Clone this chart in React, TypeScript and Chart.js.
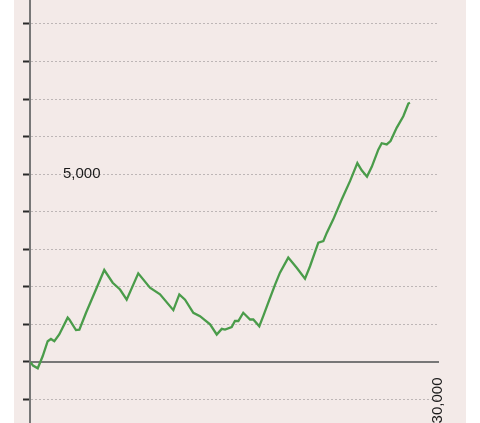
import { useEffect, useRef } from 'react';
import { Chart, registerables } from 'chart.js';

Chart.register(...registerables);

// Cumulative series
const xValues = [40, 220, 570, 930, 1300, 1540, 1790, 2150, 2770, 2890, 3380, 3630, 4120, 4850, 5460, 6080, 6620, 7110, 7960, 8820, 9560, 10540, 10980, 11400, 12010, 12500, 13240, 13730, 14100, 14340, 14830, 15070, 15320, 15680, 16180, 16420, 16860, 17150, 17520, 18020, 18380, 18990, 19610, 20220, 20590, 21200, 21570, 21820, 22300, 22920, 23530, 24070, 24390, 24780, 25130, 25610, 25860, 26230, 26510, 26960, 27450, 27820, 27940];
const yValues = [-15, -110, -180, 140, 540, 600, 540, 720, 1170, 1120, 840, 850, 1300, 1920, 2440, 2100, 1920, 1650, 2350, 1970, 1790, 1370, 1790, 1650, 1300, 1210, 990, 720, 870, 850, 920, 1080, 1080, 1300, 1120, 1120, 940, 1210, 1570, 2050, 2370, 2770, 2500, 2210, 2540, 3170, 3210, 3430, 3790, 4320, 4810, 5290, 5100, 4930, 5190, 5650, 5820, 5790, 5880, 6230, 6540, 6880, 6900];

const yTickValues = [-1000, 0, 1000, 2000, 3000, 4000, 5000, 6000, 7000, 8000, 9000];
const yLabelledTicks = [5000];
const xTickValues = [30000];

const FONT = 'Liberation Sans, Arial, Helvetica, sans-serif';

export default function App() {
  const ref = useRef<HTMLCanvasElement>(null);

  useEffect(() => {
    if (!ref.current) return;
    const bgPlugin = {
      id: 'bgPanel',
      beforeDraw(chart: any) {
        const { ctx, chartArea } = chart;
        ctx.save();
        ctx.fillStyle = '#f3eae8';
        ctx.fillRect(chartArea.left - 16, 0, chartArea.right - chartArea.left + 44, chart.height);
        ctx.restore();
      },
    };

    const chart = new Chart(ref.current, {
      type: 'line',
      data: {
        datasets: [
          {
            data: xValues.map((x, i) => ({ x, y: yValues[i] })),
            borderColor: '#4a9c4a',
            borderWidth: 2.3,
            pointRadius: 0,
            tension: 0,
            fill: false,
          },
        ],
      },
      options: {
        responsive: false,
        animation: false,
        layout: { padding: { left: 0, top: 0, right: 42, bottom: 0 } },
        plugins: { legend: { display: false }, tooltip: { enabled: false } },
        scales: {
          x: {
            type: 'linear',
            axis: 'x',
            position: { y: 0 },
            min: 0,
            max: 30000,
            afterBuildTicks: (s: any) => {
              s.ticks = xTickValues.map((v) => ({ value: v }));
            },
            afterFit: (s: any) => {
              s.paddingLeft = 0;
              s.paddingRight = 0;
              s.paddingTop = 0;
              s.paddingBottom = 0;
            },
            grid: { display: false, drawTicks: false, tickLength: 0 },
            border: { display: true, color: '#777777', width: 2 },
            ticks: {
              minRotation: 90,
              maxRotation: 90,
              padding: 16,
              color: '#1a1a1a',
              font: { family: FONT, size: 15 },
              callback: (v: any) => Number(v).toLocaleString('en-US'),
            },
          },
          y: {
            type: 'linear',
            position: 'left',
            min: -1640,
            max: 9640,
            afterBuildTicks: (s: any) => {
              s.ticks = yTickValues.map((v) => ({ value: v }));
            },
            afterFit: (s: any) => {
              s.width = 30;
              s.paddingTop = 0;
              s.paddingBottom = 0;
            },
            grid: {
              color: '#bdb6b6',
              lineWidth: 1,
              tickLength: 7,
              tickColor: '#2a2a2a',
              tickWidth: 2,
            },
            border: { color: '#777777', width: 2, dash: [2, 2] },
            ticks: {
              mirror: true,
              padding: 33,
              autoSkip: false,
              color: '#1a1a1a',
              font: { family: FONT, size: 15 },
              callback: (v: any) =>
                yLabelledTicks.includes(Number(v)) ? Number(v).toLocaleString('en-US') : '',
            },
          },
        },
      },
      plugins: [bgPlugin],
    } as any);

    return () => chart.destroy();
  }, []);

  return (
    <canvas
      ref={ref}
      width={480}
      height={423}
      style={{ position: 'absolute', left: 0, top: 0, display: 'block', width: 480, height: 423 }}
    />
  );
}
